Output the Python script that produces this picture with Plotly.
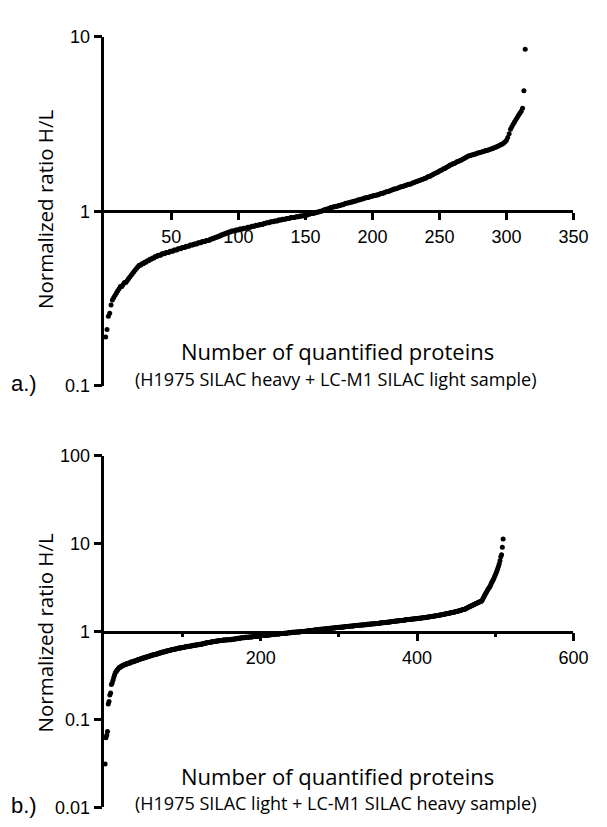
import plotly.graph_objects as go

# Ranked normalized H/L ratios, sample a (H1975 heavy + LC-M1 light)
ratios_a = [
    0.19, 0.21, 0.25, 0.26, 0.29, 0.31, 0.32, 0.33, 0.34, 0.35,
    0.36, 0.37, 0.37, 0.38, 0.39, 0.39, 0.40, 0.41, 0.42, 0.43,
    0.44, 0.45, 0.46, 0.47, 0.48, 0.49, 0.49, 0.50, 0.50, 0.51,
    0.51, 0.52, 0.52, 0.53, 0.53, 0.54, 0.54, 0.55, 0.55, 0.56,
    0.56, 0.56, 0.57, 0.57, 0.57, 0.58, 0.58, 0.58, 0.59, 0.59,
    0.59, 0.60, 0.60, 0.60, 0.61, 0.61, 0.61, 0.62, 0.62, 0.62,
    0.63, 0.63, 0.63, 0.64, 0.64, 0.64, 0.65, 0.65, 0.65, 0.66,
    0.66, 0.66, 0.67, 0.67, 0.67, 0.68, 0.68, 0.68, 0.69, 0.69,
    0.70, 0.70, 0.71, 0.71, 0.72, 0.72, 0.73, 0.73, 0.74, 0.74,
    0.75, 0.75, 0.76, 0.76, 0.77, 0.77, 0.77, 0.78, 0.78, 0.78,
    0.79, 0.79, 0.79, 0.80, 0.80, 0.80, 0.81, 0.81, 0.81, 0.82,
    0.82, 0.82, 0.83, 0.83, 0.83, 0.84, 0.84, 0.84, 0.85, 0.85,
    0.86, 0.86, 0.86, 0.87, 0.87, 0.87, 0.88, 0.88, 0.88, 0.89,
    0.89, 0.89, 0.90, 0.90, 0.90, 0.91, 0.91, 0.91, 0.92, 0.92,
    0.92, 0.92, 0.93, 0.93, 0.93, 0.94, 0.94, 0.94, 0.95, 0.95,
    0.95, 0.96, 0.96, 0.97, 0.97, 0.97, 0.98, 0.98, 0.99, 0.99,
    1.00, 1.00, 1.01, 1.02, 1.02, 1.03, 1.03, 1.04, 1.05, 1.05,
    1.06, 1.06, 1.07, 1.07, 1.08, 1.08, 1.09, 1.09, 1.10, 1.11,
    1.11, 1.12, 1.12, 1.13, 1.13, 1.14, 1.14, 1.15, 1.16, 1.16,
    1.17, 1.17, 1.18, 1.19, 1.19, 1.20, 1.20, 1.21, 1.22, 1.22,
    1.23, 1.23, 1.24, 1.24, 1.25, 1.26, 1.27, 1.27, 1.28, 1.29,
    1.30, 1.30, 1.31, 1.32, 1.33, 1.34, 1.34, 1.35, 1.36, 1.37,
    1.38, 1.38, 1.39, 1.40, 1.41, 1.42, 1.43, 1.43, 1.44, 1.45,
    1.46, 1.47, 1.48, 1.49, 1.50, 1.51, 1.52, 1.53, 1.54, 1.55,
    1.57, 1.58, 1.59, 1.61, 1.62, 1.64, 1.65, 1.67, 1.68, 1.70,
    1.71, 1.73, 1.75, 1.76, 1.78, 1.80, 1.82, 1.84, 1.85, 1.87,
    1.88, 1.90, 1.92, 1.93, 1.95, 1.96, 1.98, 2.00, 2.02, 2.04,
    2.06, 2.08, 2.09, 2.10, 2.11, 2.12, 2.13, 2.15, 2.16, 2.17,
    2.18, 2.19, 2.20, 2.22, 2.23, 2.24, 2.25, 2.27, 2.28, 2.30,
    2.31, 2.33, 2.35, 2.37, 2.39, 2.41, 2.43, 2.46, 2.50, 2.55,
    2.65, 2.78, 2.95, 3.05, 3.15, 3.25, 3.35, 3.45, 3.55, 3.65,
    3.75, 3.90, 4.90, 8.50,
]

# Ranked normalized H/L ratios, sample b (H1975 light + LC-M1 heavy)
ratios_b = [
    0.031, 0.062, 0.066, 0.073, 0.15, 0.16, 0.19, 0.20, 0.25, 0.26,
    0.28, 0.30, 0.32, 0.34, 0.35, 0.36, 0.37, 0.38, 0.39, 0.39,
    0.40, 0.40, 0.41, 0.41, 0.42, 0.42, 0.42, 0.43, 0.43, 0.43,
    0.44, 0.44, 0.44, 0.45, 0.45, 0.45, 0.46, 0.46, 0.46, 0.47,
    0.47, 0.47, 0.48, 0.48, 0.48, 0.49, 0.49, 0.49, 0.50, 0.50,
    0.50, 0.51, 0.51, 0.51, 0.52, 0.52, 0.52, 0.53, 0.53, 0.53,
    0.54, 0.54, 0.54, 0.55, 0.55, 0.55, 0.56, 0.56, 0.56, 0.57,
    0.57, 0.57, 0.58, 0.58, 0.58, 0.59, 0.59, 0.59, 0.60, 0.60,
    0.60, 0.61, 0.61, 0.61, 0.62, 0.62, 0.62, 0.63, 0.63, 0.63,
    0.63, 0.64, 0.64, 0.64, 0.65, 0.65, 0.65, 0.65, 0.66, 0.66,
    0.66, 0.66, 0.67, 0.67, 0.67, 0.67, 0.68, 0.68, 0.68, 0.68,
    0.69, 0.69, 0.69, 0.70, 0.70, 0.70, 0.70, 0.71, 0.71, 0.71,
    0.71, 0.72, 0.72, 0.72, 0.72, 0.73, 0.73, 0.73, 0.74, 0.74,
    0.74, 0.75, 0.75, 0.75, 0.75, 0.76, 0.76, 0.76, 0.77, 0.77,
    0.77, 0.77, 0.78, 0.78, 0.78, 0.78, 0.79, 0.79, 0.79, 0.79,
    0.79, 0.80, 0.80, 0.80, 0.80, 0.80, 0.81, 0.81, 0.81, 0.81,
    0.81, 0.81, 0.82, 0.82, 0.82, 0.82, 0.83, 0.83, 0.83, 0.83,
    0.84, 0.84, 0.84, 0.84, 0.85, 0.85, 0.85, 0.85, 0.85, 0.86,
    0.86, 0.86, 0.86, 0.86, 0.87, 0.87, 0.87, 0.87, 0.87, 0.88,
    0.88, 0.88, 0.88, 0.88, 0.88, 0.89, 0.89, 0.89, 0.89, 0.89,
    0.90, 0.90, 0.90, 0.90, 0.90, 0.91, 0.91, 0.91, 0.91, 0.91,
    0.92, 0.92, 0.92, 0.92, 0.93, 0.93, 0.93, 0.93, 0.93, 0.94,
    0.94, 0.94, 0.94, 0.94, 0.95, 0.95, 0.95, 0.95, 0.95, 0.96,
    0.96, 0.96, 0.96, 0.96, 0.97, 0.97, 0.97, 0.97, 0.97, 0.98,
    0.98, 0.98, 0.98, 0.98, 0.99, 0.99, 0.99, 0.99, 0.99, 0.99,
    1.00, 1.00, 1.00, 1.00, 1.00, 1.01, 1.01, 1.01, 1.01, 1.02,
    1.02, 1.02, 1.02, 1.03, 1.03, 1.03, 1.03, 1.04, 1.04, 1.04,
    1.04, 1.05, 1.05, 1.05, 1.05, 1.06, 1.06, 1.06, 1.06, 1.07,
    1.07, 1.07, 1.07, 1.08, 1.08, 1.08, 1.08, 1.09, 1.09, 1.09,
    1.09, 1.10, 1.10, 1.10, 1.10, 1.11, 1.11, 1.11, 1.11, 1.12,
    1.12, 1.12, 1.12, 1.13, 1.13, 1.13, 1.13, 1.14, 1.14, 1.14,
    1.14, 1.15, 1.15, 1.15, 1.15, 1.16, 1.16, 1.16, 1.16, 1.17,
    1.17, 1.17, 1.17, 1.18, 1.18, 1.18, 1.18, 1.19, 1.19, 1.19,
    1.19, 1.20, 1.20, 1.20, 1.20, 1.21, 1.21, 1.21, 1.21, 1.22,
    1.22, 1.22, 1.22, 1.23, 1.23, 1.23, 1.23, 1.24, 1.24, 1.24,
    1.24, 1.25, 1.25, 1.25, 1.26, 1.26, 1.26, 1.27, 1.27, 1.27,
    1.28, 1.28, 1.28, 1.29, 1.29, 1.29, 1.30, 1.30, 1.30, 1.31,
    1.31, 1.31, 1.32, 1.32, 1.32, 1.33, 1.33, 1.33, 1.34, 1.34,
    1.34, 1.35, 1.35, 1.35, 1.36, 1.36, 1.36, 1.37, 1.37, 1.37,
    1.38, 1.38, 1.38, 1.39, 1.39, 1.39, 1.40, 1.40, 1.40, 1.41,
    1.41, 1.42, 1.42, 1.42, 1.43, 1.43, 1.44, 1.44, 1.44, 1.45,
    1.45, 1.46, 1.46, 1.47, 1.47, 1.48, 1.48, 1.49, 1.49, 1.50,
    1.50, 1.51, 1.51, 1.52, 1.52, 1.53, 1.53, 1.54, 1.55, 1.55,
    1.56, 1.56, 1.57, 1.58, 1.58, 1.59, 1.60, 1.60, 1.61, 1.62,
    1.62, 1.63, 1.64, 1.64, 1.65, 1.66, 1.66, 1.67, 1.68, 1.69,
    1.70, 1.71, 1.72, 1.73, 1.74, 1.75, 1.76, 1.77, 1.78, 1.79,
    1.80, 1.82, 1.84, 1.86, 1.88, 1.90, 1.92, 1.94, 1.96, 1.98,
    2.00, 2.02, 2.04, 2.06, 2.08, 2.10, 2.12, 2.14, 2.16, 2.18,
    2.20, 2.22, 2.26, 2.35, 2.45, 2.55, 2.65, 2.75, 2.85, 2.95,
    3.05, 3.15, 3.25, 3.40, 3.55, 3.70, 3.85, 4.00, 4.20, 4.40,
    4.65, 4.90, 5.20, 5.50, 5.90, 6.40, 7.10, 7.50, 9.10, 11.3,
]

rank_a = list(range(1, len(ratios_a) + 1))
rank_b = list(range(1, len(ratios_b) + 1))

xticks_a = [50, 100, 150, 200, 250, 300, 350]
xticks_b = [200, 400, 600]
xminor_b = [100, 300, 500]
yticks_a = [0.1, 1, 10]
ylabels_a = ["0.1", "1", "10"]
yticks_b = [0.01, 0.1, 1, 10, 100]
ylabels_b = ["0.01", "0.1", "1", "10", "100"]

x_title = "Number of quantified proteins"
sub_a = "(H1975 SILAC heavy + LC-M1 SILAC light sample)"
sub_b = "(H1975 SILAC light + LC-M1 SILAC heavy sample)"
y_title = "Normalized ratio H/L"

W, H = 607, 827
TICK_FONT = dict(family="Liberation Sans, Arial, sans-serif", size=18, color="black")
TITLE_FONT = "Open Sans, sans-serif"


def px_x(p):
    return p / W


def px_y(p):
    return 1 - p / H


xdom = [px_x(107), px_x(588)]
ydom_a = [px_y(385), px_y(27.5)]
ydom_b = [px_y(817), px_y(457)]

marker = dict(color="black", size=5, line=dict(width=0))

fig = go.Figure()
fig.add_trace(go.Scatter(x=rank_a, y=ratios_a, mode="markers", marker=marker,
                         xaxis="x", yaxis="y", showlegend=False, cliponaxis=False))
fig.add_trace(go.Scatter(x=rank_b, y=ratios_b, mode="markers", marker=marker,
                         xaxis="x2", yaxis="y2", showlegend=False, cliponaxis=False))

axis_common = dict(showline=True, linecolor="black", linewidth=2.5, ticks="outside",
                   tickwidth=2.5, tickcolor="black", showgrid=False, zeroline=False,
                   tickfont=TICK_FONT)

fig.update_layout(
    width=W, height=H,
    margin=dict(l=0, r=0, t=0, b=0),
    paper_bgcolor="white", plot_bgcolor="white",
    xaxis=dict(axis_common, domain=xdom, range=[0, 350], anchor="free",
               position=(ydom_a[0] + ydom_a[1]) / 2, tickvals=xticks_a, ticklen=7,
               ticklabelstandoff=1),
    yaxis=dict(axis_common, domain=ydom_a, type="log", range=[-1, 1], anchor="x",
               tickvals=yticks_a, ticktext=ylabels_a, ticklen=8),
    xaxis2=dict(axis_common, domain=xdom, range=[0, 600], anchor="free",
                position=(ydom_b[0] + ydom_b[1]) / 2, tickvals=xticks_b, ticklen=8,
                ticklabelstandoff=1,
                minor=dict(tickvals=xminor_b, ticks="outside", ticklen=4,
                           tickwidth=2.5, tickcolor="black", showgrid=False)),
    yaxis2=dict(axis_common, domain=ydom_b, type="log", range=[-2, 2], anchor="x2",
                tickvals=yticks_b, ticktext=ylabels_b, ticklen=8),
)

annotations = [
    dict(text=y_title, x=px_x(46), y=px_y(204), textangle=-90, font_size=20.5),
    dict(text=x_title, x=px_x(346), y=px_y(349), font_size=22),
    dict(text=sub_a, x=px_x(345), y=px_y(378), font_size=18),
    dict(text=y_title, x=px_x(46), y=px_y(638), textangle=-90, font_size=20.5),
    dict(text=x_title, x=px_x(346), y=px_y(785), font_size=22),
    dict(text=sub_b, x=px_x(345), y=px_y(813), font_size=18),
]
for a in annotations:
    fig.add_annotation(xref="paper", yref="paper", showarrow=False,
                       xanchor="center", yanchor="middle",
                       font=dict(family=TITLE_FONT, color="black", size=a.pop("font_size")),
                       **a)

for lab, yy in (("a.)", 383), ("b.)", 815)):
    fig.add_annotation(text=lab, xref="paper", yref="paper", x=px_x(25), y=px_y(yy),
                       showarrow=False, xanchor="center", yanchor="middle",
                       font=dict(family="Liberation Sans, Arial, sans-serif", size=22,
                                 color="black"))

fig.write_html("out.html")
